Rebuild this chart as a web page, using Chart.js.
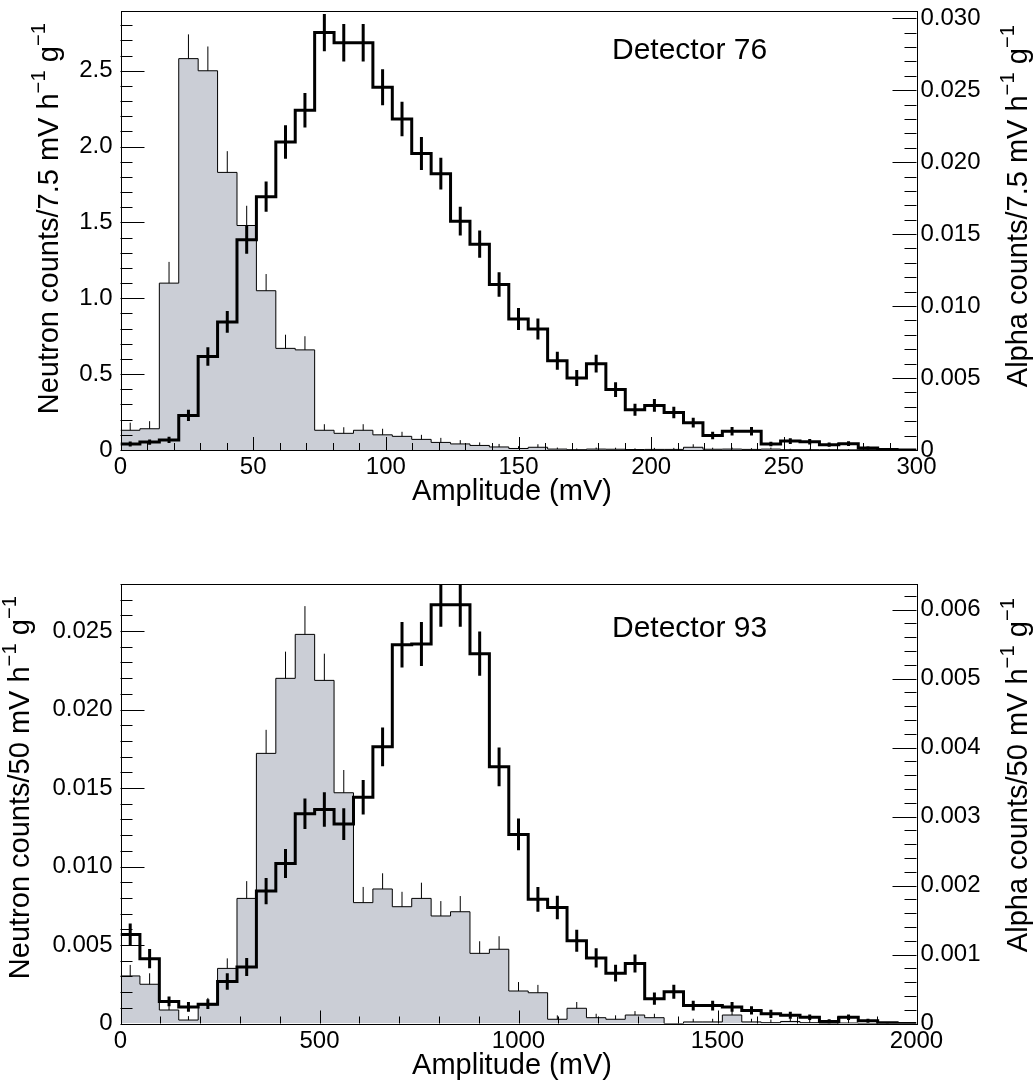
<!DOCTYPE html>
<html>
<head>
<meta charset="utf-8">
<title>detector spectra</title>
<script src="https://cdn.jsdelivr.net/npm/chart.js@4.4.0/dist/chart.umd.min.js"></script>
<style>
  body { margin: 0; background: #ffffff; }
  .panel { position: relative; width: 1034px; height: 544px; }
</style>
</head>
<body>
<div class="panel"><canvas id="det76" width="1034" height="544"></canvas></div>
<div class="panel"><canvas id="det93" width="1034" height="544"></canvas></div>
<script>
// 41 bins per spectrum
const NBINS = 41;

// Detector 76, 0-300 mV
const neutron76 = [0.13,0.14,1.10,2.58,2.50,1.83,1.48,1.05,0.67,0.66,
  0.13,0.11,0.13,0.10,0.09,0.07,0.05,0.04,0.03,0.02,
  0.01,0.018,0.006,0.002,0.006,0.005,0.003,0.004,0.004,0.018,
  0.005,0.006,0.004,0.006,0.002,0.002,0.002,0.001,0.002,0.001,0.001];
const neutron76Err = [0.05,0.05,0.14,0.16,0.16,0.14,0.13,0.11,0.09,0.09,
  0.04,0.04,0.04,0.04,0.03,0.03,0.03,0.025,0.02,0.02,
  0.015,0.02,0.01,0.008,0.01,0.01,0.008,0.01,0.01,0.02,
  0.01,0.01,0.008,0.01,0.006,0.006,0.006,0.005,0.006,0.005,0.005];
const alpha76 = [0.00042,0.00055,0.0007,0.0024,0.0065,0.0089,0.0146,0.0176,0.0214,0.0236,
  0.0290,0.0283,0.0283,0.0252,0.0230,0.0206,0.0192,0.0159,0.0143,0.0115,
  0.0091,0.0084,0.0062,0.0050,0.0060,0.0042,0.0028,0.0031,0.0026,0.0019,
  0.0010,0.0013,0.0013,0.00042,0.00062,0.00058,0.00037,0.00044,0.00014,0.00003,0];
const alpha76Err = [0.00017,0.00018,0.00022,0.00039,0.00064,0.00075,0.00096,0.00105,0.00116,0.0012,
  0.0013,0.0013,0.0013,0.00125,0.0012,0.00114,0.0011,0.001,0.00095,0.00085,
  0.00076,0.00073,0.00062,0.00056,0.00062,0.00051,0.00042,0.00044,0.0004,0.00034,
  0.00026,0.00029,0.00029,0.00016,0.0002,0.00019,0.00015,0.00017,0.0001,0.00005,0];

// Detector 93, 0-2000 mV
const neutron93 = [0.00303,0.0025,0.00086,0.00022,0.00118,0.00351,0.00797,0.01721,0.02199,0.02479,
  0.02186,0.0147,0.0077,0.00857,0.00744,0.00797,0.00685,0.00712,0.00447,0.00473,
  0.00207,0.00196,0.00027,0.00097,0.00037,0.00027,0.00054,0.00037,0,0.0001,
  0.0001,0.00054,0.0001,0.00005,0.00013,0.00005,0,0.00003,0,0,0];
const neutron93Err = [0.0007,0.0007,0.0004,0.00025,0.00045,0.00064,0.0011,0.0015,0.0017,0.0018,
  0.0017,0.00145,0.001,0.001,0.00095,0.001,0.00095,0.001,0.00077,0.00083,
  0.00057,0.0005,0.00025,0.0004,0.00025,0.00025,0.00025,0.00025,0,0.0002,
  0.0002,0.0004,0.0002,0.0002,0.0002,0.0002,0,0.0002,0,0,0];
const alpha93 = [0.00129,0.00094,0.00032,0.00024,0.00028,0.00061,0.00082,0.00192,0.00232,0.00304,
  0.0031,0.00289,0.00328,0.00401,0.00549,0.0055,0.00607,0.00607,0.00536,0.00372,
  0.00274,0.0018,0.00168,0.0012,0.00095,0.00073,0.00087,0.00036,0.00046,0.00026,
  0.00026,0.00024,0.00019,0.00014,0.00012,0.00009,0.00003,0.00009,0.00004,0.00001,0];
const alpha93Err = [0.00016,0.00014,0.00007,0.00007,0.00007,0.00012,0.00013,0.00019,0.00021,0.00022,
  0.00025,0.00023,0.00025,0.00028,0.00033,0.00032,0.00032,0.00032,0.00032,0.00028,
  0.00023,0.00018,0.00017,0.00016,0.00014,0.00012,0.00013,0.00009,0.0001,0.00007,
  0.00007,0.00007,0.00006,0.00006,0.00005,0.00004,0.00003,0.00004,0.00003,0.00001,0];

// tick labels
const xTicks76 = [0, 50, 100, 150, 200, 250, 300];
const yTicks76 = [0, 0.5, 1.0, 1.5, 2.0, 2.5];
const yRTicks76 = [0, 0.005, 0.010, 0.015, 0.020, 0.025, 0.030];
const xTicks93 = [0, 500, 1000, 1500, 2000];
const yTicks93 = [0, 0.005, 0.010, 0.015, 0.020, 0.025];
const yRTicks93 = [0, 0.001, 0.002, 0.003, 0.004, 0.005, 0.006];

const FONT = '"Liberation Sans", Arial, Helvetica, sans-serif';
const LABEL_SIZE = 24;
const TITLE_SIZE = 29;

// histogram outline: one point per left bin edge plus the closing edge
function stepPoints(vals, w) {
  const pts = vals.map((v, i) => ({ x: i * w, y: v }));
  pts.push({ x: vals.length * w, y: vals[vals.length - 1] });
  return pts;
}

// vertical error bars as line segments split by gaps
function errSegments(vals, errs, w, upperOnly) {
  const pts = [];
  vals.forEach((v, i) => {
    if (!errs[i]) return;
    const c = (i + 0.5) * w;
    pts.push({ x: c, y: upperOnly ? v : v - errs[i] });
    pts.push({ x: c, y: v + errs[i] });
    pts.push({ x: c, y: null });
  });
  return pts;
}

function drawText(ctx, parts, x, y, size, rotate, align) {
  ctx.save();
  ctx.translate(x, y);
  if (rotate) ctx.rotate(-Math.PI / 2);
  const sup = size * 0.7;
  let w = 0;
  parts.forEach(([t, s]) => { ctx.font = (s ? sup : size) + 'px ' + FONT; w += ctx.measureText(t).width; });
  let cx = align === 'right' ? -w : align === 'center' ? -w / 2 : 0;
  ctx.textAlign = 'left';
  ctx.textBaseline = 'alphabetic';
  ctx.fillStyle = '#000';
  parts.forEach(([t, s]) => {
    ctx.font = (s ? sup : size) + 'px ' + FONT;
    ctx.fillText(t, cx, s ? -size * 0.45 : 0);
    cx += ctx.measureText(t).width;
  });
  ctx.restore();
}

// ROOT-like frame, inward ticks and titles
function axesPlugin(p) {
  return {
    id: 'rootAxes',
    afterDraw(chart) {
      const { ctx, chartArea: a, scales } = chart;
      ctx.save();
      ctx.strokeStyle = '#000';
      ctx.lineWidth = 1;
      ctx.beginPath();
      const tick = (x1, y1, x2, y2) => { ctx.moveTo(x1, y1); ctx.lineTo(x2, y2); };
      for (let k = 0; k * p.xMinor <= p.xMax + 1e-9; k++) {
        const v = k * p.xMinor;
        const px = Math.round(scales.x.getPixelForValue(v)) + 0.5;
        const major = p.xTicks.some(t => Math.abs(t - v) < 1e-9);
        tick(px, a.bottom, px, a.bottom - (major ? 13 : 7));
      }
      for (let k = 0; k * p.yMinor <= p.yMax + 1e-12; k++) {
        const v = k * p.yMinor;
        const py = Math.round(scales.y.getPixelForValue(v)) + 0.5;
        const major = p.yTicks.some(t => Math.abs(t - v) < 1e-9);
        tick(a.left, py, a.left + (major ? 24 : 12), py);
      }
      for (let k = 0; k * p.yRMinor <= p.yRMax + 1e-12; k++) {
        const v = k * p.yRMinor;
        const py = Math.round(scales.yR.getPixelForValue(v)) + 0.5;
        const major = p.yRTicks.some(t => Math.abs(t - v) < 1e-9);
        tick(a.right, py, a.right - (major ? 24 : 12), py);
      }
      ctx.stroke();
      ctx.strokeRect(Math.round(a.left) + 0.5, Math.round(a.top) + 0.5,
        Math.round(a.right - a.left), Math.round(a.bottom - a.top));
      ctx.restore();

      drawText(ctx, p.leftTitle, p.leftTitleX, a.top + 12, TITLE_SIZE, true, 'right');
      drawText(ctx, p.rightTitle, 1027, a.top + 14, TITLE_SIZE, true, 'right');
      drawText(ctx, [['Amplitude (mV)', false]], 512, a.bottom + 50, TITLE_SIZE, false, 'center');
      drawText(ctx, [[p.label, false]], 612, a.top + p.labelDy, 30, false, 'left');
    }
  };
}

function fmt(dec) {
  return v => (Math.abs(v) < 1e-12 ? '0' : v.toFixed(dec));
}

function axis(pos, max, ticks, dec, pad, width) {
  return {
    type: 'linear', position: pos, min: 0, max: max,
    grid: { display: false, drawTicks: false }, border: { display: false },
    ticks: { color: '#000', font: { family: FONT, size: LABEL_SIZE }, padding: pad, autoSkip: false, callback: fmt(dec) },
    afterBuildTicks: s => { s.ticks = ticks.map(v => ({ value: v })); },
    afterFit: s => { s.width = width; s.paddingTop = 0; s.paddingBottom = 0; }
  };
}

function makeChart(id, p) {
  const w = p.xMax / NBINS;
  return new Chart(document.getElementById(id), {
    type: 'line',
    data: {
      datasets: [
        { data: errSegments(p.alpha, p.alphaErr, w, false), yAxisID: 'yR', borderColor: '#000',
          borderWidth: 3, pointRadius: 0, spanGaps: false, borderCapStyle: 'butt', order: 0 },
        { data: stepPoints(p.alpha, w), yAxisID: 'yR', stepped: 'before', borderColor: '#000',
          borderWidth: 3, pointRadius: 0, fill: false, borderJoinStyle: 'miter', order: 1 },
        { data: errSegments(p.neutron, p.neutronErr, w, true), yAxisID: 'y', borderColor: '#000',
          borderWidth: 1, pointRadius: 0, spanGaps: false, order: 2 },
        { data: stepPoints(p.neutron, w), yAxisID: 'y', stepped: 'before', borderColor: '#000',
          borderWidth: 1, backgroundColor: '#cbced6', fill: 'origin', pointRadius: 0, order: 3 }
      ]
    },
    options: {
      responsive: false, animation: false, events: [],
      layout: { padding: { top: p.padTop, bottom: 0, left: 0, right: 0 } },
      plugins: { legend: { display: false }, tooltip: { enabled: false } },
      scales: {
        x: {
          type: 'linear', min: 0, max: p.xMax,
          grid: { display: false, drawTicks: false }, border: { display: false },
          ticks: { color: '#000', font: { family: FONT, size: LABEL_SIZE }, padding: 3, maxRotation: 0,
                   autoSkip: false, callback: v => String(v) },
          afterBuildTicks: s => { s.ticks = p.xTicks.map(v => ({ value: v })); },
          afterFit: s => { s.height = p.xHeight; s.paddingLeft = 0; s.paddingRight = 0; }
        },
        y: axis('left', p.yMax, p.yTicks, p.yDec, 8, 120.5),
        yR: axis('right', p.yRMax, p.yRTicks, p.yRDec, 4, 117.5)
      }
    },
    plugins: [axesPlugin(p)]
  });
}

makeChart('det76', {
  neutron: neutron76, neutronErr: neutron76Err, alpha: alpha76, alphaErr: alpha76Err,
  xMax: 300, xTicks: xTicks76, xMinor: 10,
  yMax: 2.894, yTicks: yTicks76, yMinor: 0.1, yDec: 1,
  yRMax: 0.0305, yRTicks: yRTicks76, yRMinor: 0.001, yRDec: 3,
  padTop: 11, xHeight: 94, label: 'Detector 76', labelDy: 48, leftTitleX: 58,
  leftTitle: [['Neutron counts/7.5 mV h', false], ['\u22121', true], [' g', false], ['\u22121', true]],
  rightTitle: [['Alpha counts/7.5 mV h', false], ['\u22121', true], [' g', false], ['\u22121', true]]
});

makeChart('det93', {
  neutron: neutron93, neutronErr: neutron93Err, alpha: alpha93, alphaErr: alpha93Err,
  xMax: 2000, xTicks: xTicks93, xMinor: 100,
  yMax: 0.028, yTicks: yTicks93, yMinor: 0.001, yDec: 3,
  yRMax: 0.00637, yRTicks: yRTicks93, yRMinor: 0.0002, yRDec: 3,
  padTop: 40, xHeight: 64.5, label: 'Detector 93', labelDy: 53, leftTitleX: 29,
  leftTitle: [['Neutron counts/50 mV h', false], ['\u22121', true], [' g', false], ['\u22121', true]],
  rightTitle: [['Alpha counts/50 mV h', false], ['\u22121', true], [' g', false], ['\u22121', true]]
});
</script>
</body>
</html>
